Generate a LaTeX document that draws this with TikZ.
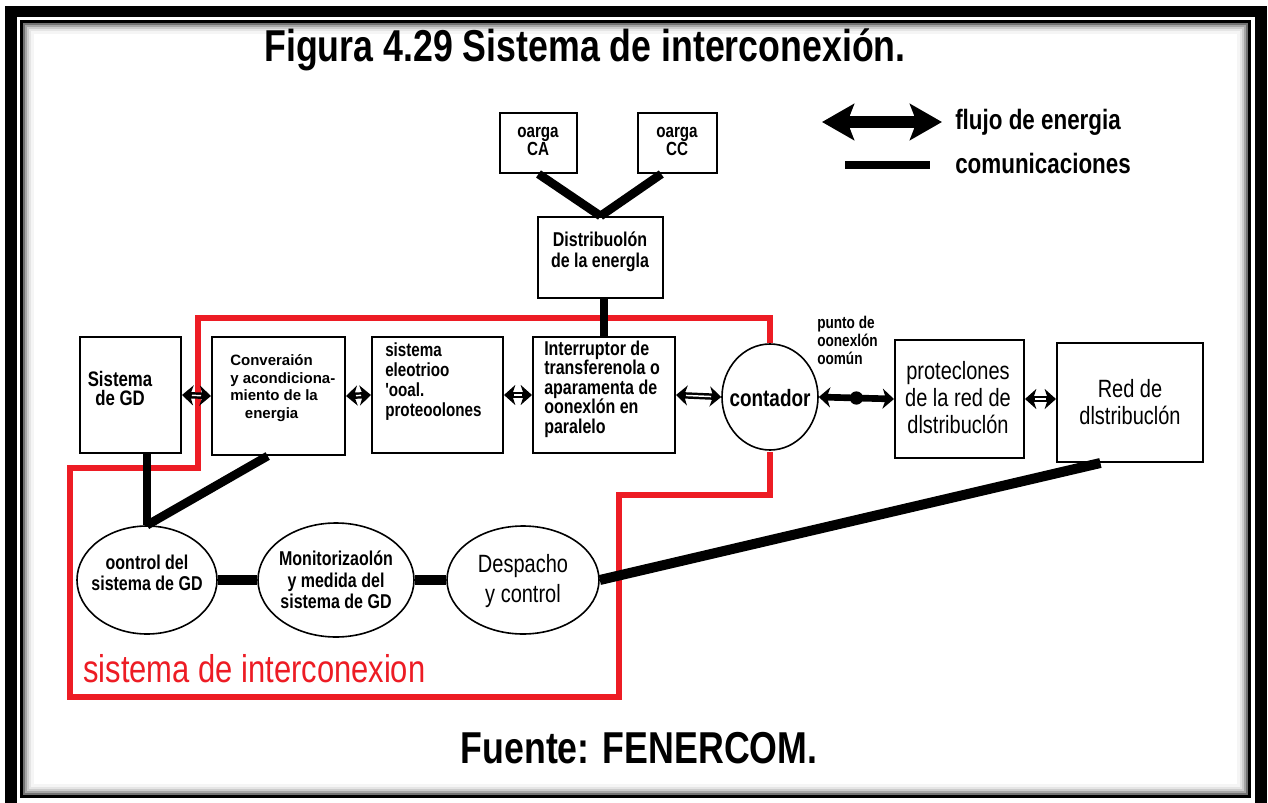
\documentclass[tikz,border=0pt]{standalone}
\usepackage{fontspec}
\setmainfont{Liberation Sans}
\newfontfamily\cf[FakeStretch=0.8]{Liberation Sans}
\usetikzlibrary{arrows.meta,fit,calc,shapes.geometric}
\definecolor{redline}{RGB}{237,28,36}
\begin{document}
\begin{tikzpicture}[x=0.75pt,y=-0.75pt,
  box/.style={draw,line width=1.5pt,inner sep=0pt,rectangle},
  ell/.style={draw,line width=1.2pt,ellipse,inner sep=0pt},
  txt/.style={inner sep=0pt,text=black},
  comm/.style={line width=6.5pt},
  ea/.style={line width=4.8pt,{Stealth[length=8.5pt,width=15pt,inset=2.5pt]}-{Stealth[length=8.5pt,width=15pt,inset=2.5pt]}},
  eaw/.style={white,line width=1.1pt,shorten <=7.5pt,shorten >=7.5pt},
  redb/.style={draw=redline,line width=4.5pt}]
\useasboundingbox (0,0) rectangle (1268,803);
\clip (0,0) rectangle (1268,803);
\fill[white] (0,0) rectangle (1268,803);
% frame
\draw[line width=8.5pt] (11,11.5) rectangle (1261,815);
\draw[line width=2.2pt] (21.5,21.5) rectangle (1249.5,796.5);
\foreach \o/\c in {3/55,5/35,7/20,9/10,11/4}
  \draw[line width=1.6pt,black!\c] (21.5+\o,21.5+\o) rectangle (1249.5-\o,796.5-\o);

% title and source
\node[txt,font=\cf\bfseries\fontsize{33.5}{33.5}\selectfont] (title) at (585,50) {Figura 4.29 Sistema de interconexión.};
\node[txt,font=\cf\bfseries\fontsize{33.5}{34}\selectfont] (fuente) at (639,748) {Fuente: FENERCOM.};

% legend
\coordinate (la1) at (822,122);
\coordinate (la2) at (942,122);
\draw[line width=9pt,{Stealth[length=24pt,width=27pt,inset=5pt]}-{Stealth[length=24pt,width=27pt,inset=5pt]}] (la1) -- (la2);
\node[txt,anchor=west,font=\cf\bfseries\fontsize{21}{21}\selectfont] (lflujo) at (955,122) {flujo de energia};
\coordinate (lc1) at (845,165);
\coordinate (lc2) at (930,165);
\draw[line width=6pt] (lc1) -- (lc2);
\node[txt,anchor=west,font=\cf\bfseries\fontsize{21}{21}\selectfont] (lcom) at (955,163) {comunicaciones};

% red boundary
\draw[redb,line join=miter] (770,343) -- (770,318) -- (198,318) -- (198,468) -- (70,468) -- (70,697) -- (619,697) -- (619,495) -- (770,495) -- (770,452);
\node[txt,anchor=west,text=redline,font=\cf\fontsize{29}{29}\selectfont] (tsi) at (83,669) {sistema de interconexion};

% boxes
\node[box,fit={(500,113) (577,173)}] (ca) {};
\node[box,fit={(638,113) (717,173)}] (cc) {};
\node[box,fit={(538,217) (663,298)}] (dist) {};
\node[box,fit={(80,337) (181,453)}] (gd) {};
\node[box,fit={(212,337) (345,455)}] (conv) {};
\node[box,fit={(372,337) (503,453)}] (sel) {};
\node[box,fit={(533,337) (675,453)}] (intr) {};
\node[ell,minimum width=72pt,minimum height=79.5pt] (cont) at (770,397) {};
\node[box,fit={(895,340) (1024,458)}] (prot) {};
\node[box,fit={(1057,343) (1203,462)}] (red) {};
\node[ell,minimum width=105pt,minimum height=81pt] (ctrl) at (147,580) {};
\node[ell,minimum width=117pt,minimum height=85.5pt] (mon) at (336,580) {};
\node[ell,minimum width=114pt,minimum height=81pt] (desp) at (523,580) {};

% box texts
\node[txt,align=center,font=\cf\bfseries\fontsize{14.25}{13.5}\selectfont] (tca) at (538,141) {oarga\\CA};
\node[txt,align=center,font=\cf\bfseries\fontsize{14.25}{13.5}\selectfont] (tcc) at (677,141) {oarga\\CC};
\node[txt,align=center,font=\cf\bfseries\fontsize{15}{15.75}\selectfont] (tdist) at (600,252) {Distribuolón\\de la energla};
\node[txt,align=center,font=\cf\bfseries\fontsize{15.75}{14.25}\selectfont] (tgd) at (120,388) {Sistema\\de GD};
\node[txt,align=left,anchor=west,font=\bfseries\fontsize{11.25}{13.3}\selectfont] (tconv) at (230,388) {Converaión\\y acondiciona-\\miento de la\\\hspace*{11pt}energia};
\node[txt,align=left,anchor=west,font=\cf\bfseries\fontsize{14.25}{15}\selectfont] (tsel) at (385,382) {sistema\\eleotrioo\\'ooal.\\proteoolones};
\node[txt,align=left,anchor=west,font=\cf\bfseries\fontsize{15}{14.6}\selectfont] (tintr) at (544,389) {Interruptor de\\transferenola o\\aparamenta de\\oonexlón en\\paralelo};
\node[txt,font=\cf\bfseries\fontsize{17.75}{17}\selectfont] (tcont) at (770,398) {contador};
\node[txt,align=left,anchor=west,font=\cf\bfseries\fontsize{12.75}{13.5}\selectfont] (tpunto) at (817,340) {punto de\\oonexlón\\oomún};
\node[txt,align=center,font=\cf\fontsize{18.75}{20.25}\selectfont] (tprot) at (958,398) {proteclones\\de la red de\\dlstribuclón};
\node[txt,align=center,font=\cf\fontsize{18.75}{20.25}\selectfont] (tred) at (1130,402) {Red de\\dlstribuclón};
\node[txt,align=center,font=\cf\bfseries\fontsize{15}{16}\selectfont] (tctrl) at (147,573) {oontrol del\\sistema de GD};
\node[txt,align=center,font=\cf\bfseries\fontsize{15}{16}\selectfont] (tmon) at (336,580) {Monitorizaolón\\y medida del\\sistema de GD};
\node[txt,align=center,font=\cf\fontsize{18.75}{22.5}\selectfont] (tdesp) at (523,581) {Despacho\\y control};

% communication lines
\draw[comm] (ca.south) -- (dist.north);
\draw[comm] ($(cc.south west)!0.3!(cc.south east)$) -- (dist.north);
\draw[comm] (intr.north |- dist.south) -- (intr.north);
\draw[comm] (ctrl.north |- gd.south) -- (ctrl.north);
\draw[comm] ($(conv.south west)!0.42!(conv.south east)$) -- (ctrl.north);
\draw[comm,line width=7.5pt] (ctrl.east) -- (mon.west);
\draw[comm,line width=7.5pt] (mon.east) -- (desp.west);
\draw[comm,line width=7.5pt] (desp.east) -- ($(red.south west)!0.3!(red.south east)$);

% energy arrows
\foreach \a/\b in {gd/conv,conv/sel,sel/intr,intr/cont}{
  \draw[ea] (\a.east) -- (\b.west);
  \draw[eaw] (\a.east) -- (\b.west);
}
\draw[ea] (prot.east) -- (red.west |- prot.east);
\draw[eaw] (prot.east) -- (red.west |- prot.east);
\draw[ea,line width=5pt] (cont.east) -- (prot.west);
\node[circle,fill,minimum size=10pt,inner sep=0pt] (dot) at ($(cont.east)!0.5!(prot.west)$) {};
\end{tikzpicture}
\end{document}
